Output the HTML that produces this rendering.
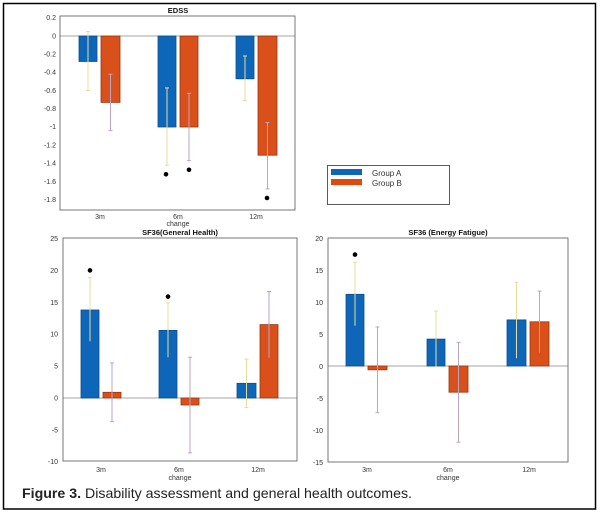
<!DOCTYPE html>
<html><head><meta charset="utf-8"><style>
html,body{margin:0;padding:0;background:#fff}
svg{display:block}
text{font-family:"Liberation Sans",sans-serif}
.t{font-size:7px;fill:#333}
.ti{font-size:7.5px;font-weight:bold;fill:#111}
.b{fill:#0d66b8;stroke:#0a4f8e;stroke-width:0.8}
.o{fill:#d9501a;stroke:#9a3510;stroke-width:0.8}
.ea{stroke:#e6dc9c;stroke-width:1}
.eb{stroke:#b9a6c2;stroke-width:1}
.ax{fill:none;stroke:#555;stroke-width:0.8}
.z{stroke:#888;stroke-width:0.8}
</style></head><body>
<svg width="602" height="514" viewBox="0 0 602 514" xmlns="http://www.w3.org/2000/svg">
<rect x="3.5" y="3.5" width="592" height="505.5" fill="#fff" stroke="#000" stroke-width="1.5"/>

<!-- EDSS -->
<text class="ti" x="178" y="13" text-anchor="middle">EDSS</text>
<g class="t" text-anchor="end">
<text x="56" y="20">0.2</text><text x="56" y="38.5">0</text><text x="56" y="56.5">-0.2</text><text x="56" y="74.5">-0.4</text><text x="56" y="93">-0.6</text><text x="56" y="111">-0.8</text><text x="56" y="129">-1</text><text x="56" y="147.5">-1.2</text><text x="56" y="165.5">-1.4</text><text x="56" y="184">-1.6</text><text x="56" y="202">-1.8</text>
</g>
<line class="z" x1="60" y1="36" x2="295" y2="36"/>
<rect class="b" x="79" y="36" width="18" height="25.5"/>
<rect class="o" x="101" y="36" width="19" height="66.4"/>
<rect class="b" x="158" y="36" width="18" height="91"/>
<rect class="o" x="180" y="36" width="18" height="91"/>
<rect class="b" x="236" y="36" width="18" height="42.8"/>
<rect class="o" x="258" y="36" width="19" height="119.2"/>
<g>
<line class="ea" x1="88" y1="31.5" x2="88" y2="90.6"/><line class="ea" x1="86" y1="31.5" x2="90" y2="31.5"/><line class="ea" x1="86" y1="90.6" x2="90" y2="90.6"/>
<line class="eb" x1="110.5" y1="74.2" x2="110.5" y2="130.6"/><line class="eb" x1="108.5" y1="74.2" x2="112.5" y2="74.2"/><line class="eb" x1="108.5" y1="130.6" x2="112.5" y2="130.6"/>
<line class="ea" x1="167" y1="87.9" x2="167" y2="165.2"/><line class="ea" x1="165" y1="87.9" x2="169" y2="87.9"/><line class="ea" x1="165" y1="165.2" x2="169" y2="165.2"/>
<line class="eb" x1="189" y1="93.3" x2="189" y2="160.7"/><line class="eb" x1="187" y1="93.3" x2="191" y2="93.3"/><line class="eb" x1="187" y1="160.7" x2="191" y2="160.7"/>
<line class="ea" x1="245" y1="56" x2="245" y2="100.6"/><line class="ea" x1="243" y1="56" x2="247" y2="56"/><line class="ea" x1="243" y1="100.6" x2="247" y2="100.6"/>
<line class="eb" x1="267.5" y1="122.5" x2="267.5" y2="188.9"/><line class="eb" x1="265.5" y1="122.5" x2="269.5" y2="122.5"/><line class="eb" x1="265.5" y1="188.9" x2="269.5" y2="188.9"/>
</g>
<circle cx="166" cy="174.3" r="2.3"/><circle cx="189" cy="169.8" r="2.3"/><circle cx="267" cy="198" r="2.3"/>
<rect class="ax" x="60" y="16" width="235" height="194"/>
<g class="t" text-anchor="middle"><text x="100" y="219">3m</text><text x="178" y="219">6m</text><text x="256" y="219">12m</text><text x="178" y="226">change</text></g>

<!-- Legend -->
<rect x="327.5" y="165.5" width="122" height="39" fill="#fff" stroke="#333" stroke-width="0.8"/>
<rect x="331" y="169" width="31" height="6" fill="#0d66b8"/>
<rect x="331" y="179" width="31" height="6" fill="#e0480e"/>
<text x="372" y="176" style="font-size:8px" fill="#333">Group A</text>
<text x="372" y="186" style="font-size:8px" fill="#333">Group B</text>

<!-- General Health -->
<text class="ti" x="180" y="235" text-anchor="middle">SF36(General Health)</text>
<g class="t" text-anchor="end">
<text x="58" y="241">25</text><text x="58" y="273">20</text><text x="58" y="305">15</text><text x="58" y="336.5">10</text><text x="58" y="368.5">5</text><text x="58" y="400.5">0</text><text x="58" y="432.5">-5</text><text x="58" y="464">-10</text>
</g>
<line class="z" x1="63" y1="398" x2="297" y2="398"/>
<rect class="b" x="81" y="310" width="18" height="88"/>
<rect class="o" x="103" y="392.3" width="18" height="5.7"/>
<rect class="b" x="159" y="330.4" width="18" height="67.6"/>
<rect class="o" x="181" y="398" width="18" height="7"/>
<rect class="b" x="237" y="383.3" width="19" height="14.7"/>
<rect class="o" x="260" y="324.6" width="18" height="73.4"/>
<line class="ea" x1="90" y1="277.4" x2="90" y2="341.2"/><line class="ea" x1="88" y1="277.4" x2="92" y2="277.4"/>
<line class="eb" x1="112" y1="362.9" x2="112" y2="421.6"/><line class="eb" x1="110" y1="362.9" x2="114" y2="362.9"/><line class="eb" x1="110" y1="421.6" x2="114" y2="421.6"/>
<line class="ea" x1="168" y1="302.9" x2="168" y2="357.2"/><line class="ea" x1="166" y1="302.9" x2="170" y2="302.9"/>
<line class="eb" x1="190" y1="357.2" x2="190" y2="452.9"/><line class="eb" x1="188" y1="357.2" x2="192" y2="357.2"/><line class="eb" x1="188" y1="452.9" x2="192" y2="452.9"/>
<line class="ea" x1="246.5" y1="359.1" x2="246.5" y2="407.6"/><line class="ea" x1="244.5" y1="359.1" x2="248.5" y2="359.1"/><line class="ea" x1="244.5" y1="407.6" x2="248.5" y2="407.6"/>
<line class="eb" x1="269" y1="291.5" x2="269" y2="357.8"/><line class="eb" x1="267" y1="291.5" x2="271" y2="291.5"/>
<circle cx="90" cy="270.4" r="2.3"/><circle cx="168" cy="296.6" r="2.3"/>
<rect class="ax" x="63" y="238" width="234" height="223"/>
<g class="t" text-anchor="middle"><text x="101" y="472">3m</text><text x="179" y="472">6m</text><text x="258" y="472">12m</text><text x="180" y="480">change</text></g>

<!-- Energy Fatigue -->
<text class="ti" x="448" y="235" text-anchor="middle">SF36 (Energy Fatigue)</text>
<g class="t" text-anchor="end">
<text x="323" y="241">20</text><text x="323" y="273">15</text><text x="323" y="305">10</text><text x="323" y="337">5</text><text x="323" y="369">0</text><text x="323" y="401">-5</text><text x="323" y="433">-10</text><text x="323" y="465">-15</text>
</g>
<line class="z" x1="328" y1="366" x2="568" y2="366"/>
<rect class="b" x="346" y="294.3" width="18" height="71.7"/>
<rect class="o" x="368" y="366" width="19" height="3.8"/>
<rect class="b" x="427" y="339.1" width="18" height="26.9"/>
<rect class="o" x="449" y="366" width="19" height="26.2"/>
<rect class="b" x="507" y="319.9" width="19" height="46.1"/>
<rect class="o" x="530" y="321.8" width="19" height="44.2"/>
<line class="ea" x1="355" y1="262.3" x2="355" y2="325.7"/><line class="ea" x1="353" y1="262.3" x2="357" y2="262.3"/>
<line class="eb" x1="377.5" y1="327" x2="377.5" y2="412.7"/><line class="eb" x1="375.5" y1="327" x2="379.5" y2="327"/><line class="eb" x1="375.5" y1="412.7" x2="379.5" y2="412.7"/>
<line class="ea" x1="436" y1="311" x2="436" y2="366.6"/><line class="ea" x1="434" y1="311" x2="438" y2="311"/>
<line class="eb" x1="458.5" y1="342.3" x2="458.5" y2="442.2"/><line class="eb" x1="456.5" y1="342.3" x2="460.5" y2="342.3"/><line class="eb" x1="456.5" y1="442.2" x2="460.5" y2="442.2"/>
<line class="ea" x1="516.5" y1="282.2" x2="516.5" y2="358.3"/><line class="ea" x1="514.5" y1="282.2" x2="518.5" y2="282.2"/>
<line class="eb" x1="539.5" y1="291.1" x2="539.5" y2="352.6"/><line class="eb" x1="537.5" y1="291.1" x2="541.5" y2="291.1"/>
<circle cx="355" cy="254.6" r="2.3"/>
<rect class="ax" x="328" y="238" width="240" height="224"/>
<g class="t" text-anchor="middle"><text x="367" y="472">3m</text><text x="448" y="472">6m</text><text x="529" y="472">12m</text><text x="448" y="480">change</text></g>

<text x="22" y="498" style="font-size:14px" fill="#222" textLength="390" lengthAdjust="spacingAndGlyphs"><tspan font-weight="bold">Figure 3.</tspan> Disability assessment and general health outcomes.</text>
</svg>
</body></html>
